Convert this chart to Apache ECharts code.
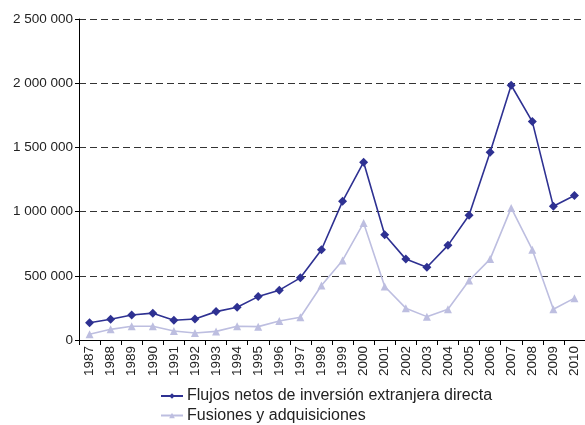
<!DOCTYPE html>
<html>
<head>
<meta charset="utf-8">
<script src="https://cdn.jsdelivr.net/npm/echarts@6/dist/echarts.min.js"></script>
<style>html,body{margin:0;padding:0;background:#fff}#c{width:585px;height:425px}</style>
</head>
<body>
<div id="c"></div>
<script>
const years = ['1987','1988','1989','1990','1991','1992','1993','1994','1995','1996','1997','1998','1999','2000','2001','2002','2003','2004','2005','2006','2007','2008','2009','2010'];
const flujosIED = [135000,162000,195000,209000,154000,164000,221000,255000,338000,388000,484000,703000,1080000,1385000,820000,630000,567000,737000,971000,1463000,1984000,1701000,1041000,1125000];
const fusiones = [45000,83000,107000,107000,70000,54000,67000,107000,104000,148000,177000,424000,620000,912000,417000,248000,182000,240000,463000,630000,1029000,703000,240000,326000];
const yTicks = [0,500000,1000000,1500000,2000000,2500000];
const seriesNames = ['Flujos netos de inversión extranjera directa','Fusiones y adquisiciones'];

const fmt = v => String(v).replace(/\B(?=(\d{3})+(?!\d))/g, ' ');
const legendBase = {
  orient:'vertical', left:160, padding:0, itemWidth:22, itemHeight:7, itemGap:0,
  textStyle:{fontSize:16,color:'#222',lineHeight:16,padding:[0,0,0,-1]}
};
const chart = echarts.init(document.getElementById('c'), null, {renderer:'canvas'});
chart.setOption({
  animation:false,
  textStyle:{fontFamily:'Liberation Sans, Arial, sans-serif'},
  grid:{left:79,right:0,top:19,bottom:85,containLabel:false},
  legend:[
    Object.assign({}, legendBase, {top:388, data:[seriesNames[0]]}),
    Object.assign({}, legendBase, {top:407.5, data:[seriesNames[1]]})
  ],
  xAxis:{
    type:'category', data:years, boundaryGap:true,
    axisLine:{lineStyle:{color:'#000',width:1}},
    axisTick:{show:true,length:5,lineStyle:{color:'#000'}},
    axisLabel:{rotate:90,fontSize:13.5,color:'#222',margin:6,interval:0}
  },
  yAxis:{
    type:'value', min:yTicks[0], max:yTicks[yTicks.length-1], interval:500000,
    axisLine:{show:true,lineStyle:{color:'#000',width:1}},
    axisTick:{show:true,length:4,lineStyle:{color:'#000'}},
    axisLabel:{fontSize:13.5,color:'#222',margin:6,formatter:fmt},
    splitLine:{show:true,lineStyle:{color:'#333',width:1,type:[7,4]}}
  },
  series:[
    {name:seriesNames[0],type:'line',data:flujosIED,symbol:'diamond',symbolSize:9,
     lineStyle:{color:'#2E3192',width:1.6},itemStyle:{color:'#2E3192'},z:3},
    {name:seriesNames[1],type:'line',data:fusiones,symbol:'triangle',symbolSize:8,
     lineStyle:{color:'#BDBEE0',width:1.6},itemStyle:{color:'#BDBEE0'},z:2}
  ]
});
</script>
</body>
</html>
